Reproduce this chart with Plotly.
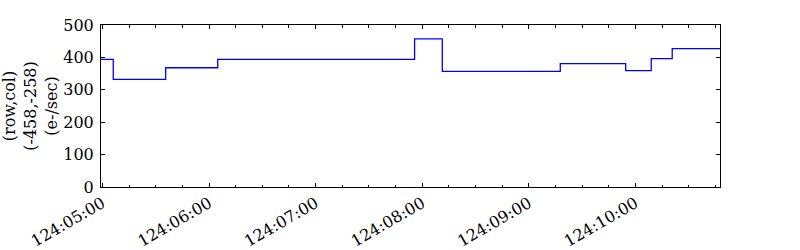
import plotly.graph_objects as go

# Step edges (day 124, HH:MM:SS) and the level held from each edge to the next
edge_times = ["2001-05-04 04:59:12", "2001-05-04 05:06:06", "2001-05-04 05:35:36",
              "2001-05-04 06:04:54", "2001-05-04 07:55:42", "2001-05-04 08:11:18",
              "2001-05-04 09:17:42", "2001-05-04 09:54:30", "2001-05-04 10:08:54",
              "2001-05-04 10:20:42", "2001-05-04 10:47:36"]
levels = [394, 332, 368, 394, 457, 357, 381, 359, 396, 427]
y_label_lines = ["(row,col)", "(-458,-258)", "(e-/sec)"]
y_ticks = [0, 100, 200, 300, 400, 500]

x_vals = edge_times
y_vals = levels + [levels[-1]]

font = "DejaVu Serif, serif"

fig = go.Figure()
fig.add_trace(go.Scatter(x=x_vals, y=y_vals, mode="lines", line_shape="hv",
                         line=dict(color="#0000ff", width=1.3), showlegend=False))

fig.update_layout(
    width=800, height=250,
    margin=dict(l=101, r=80, t=25, b=63, autoexpand=False),
    paper_bgcolor="white", plot_bgcolor="white",
    font=dict(family=font, size=16, color="black"),
)
fig.update_xaxes(
    type="date", range=[edge_times[0], edge_times[-1]], automargin=False,
    tickformat="%j:%H:%M", dtick=3600000, tick0="2001-05-04 05:00:00",
    ticks="inside", ticklen=4, tickwidth=1, tickcolor="black",
    minor=dict(ticks="inside", ticklen=2.5, dtick=900000, tickcolor="black", showgrid=False),
    tickangle=-30, tickfont=dict(family=font, size=16),
    showline=True, linecolor="black", linewidth=1, mirror="ticks",
    showgrid=False, zeroline=False,
)
fig.update_yaxes(
    range=[0, 500], tickvals=y_ticks, automargin=False,
    ticks="inside", ticklen=4, tickwidth=1, tickcolor="black",
    tickfont=dict(family=font, size=16), ticklabelstandoff=3,
    showline=True, linecolor="black", linewidth=1, mirror="ticks",
    showgrid=False, zeroline=False,
    title=dict(text="<br>".join(y_label_lines), font=dict(family=font, size=16), standoff=10),
)

fig.write_html("out.html")
